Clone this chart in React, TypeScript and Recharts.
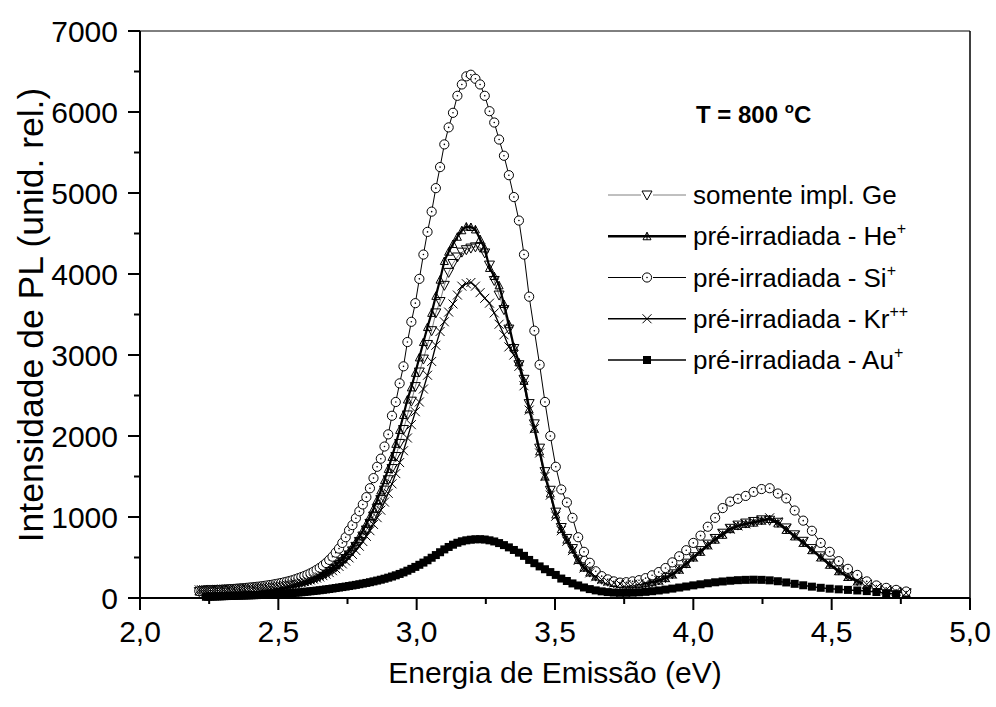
import React from 'react';
import { LineChart, Line, XAxis, YAxis, ReferenceLine } from 'recharts';

// Photon energy grid (eV), one entry per 2 nm step of the spectrometer (560 nm -> 260 nm)
const ENERGY_EV = [
  2.2143, 2.2222, 2.2302, 2.2383, 2.2464, 2.2545, 2.2628, 2.2711, 2.2794, 2.2878,
  2.2963, 2.3048, 2.3134, 2.3221, 2.3308, 2.3396, 2.3485, 2.3574, 2.3664, 2.3755,
  2.3846, 2.3938, 2.4031, 2.4125, 2.4219, 2.4314, 2.4409, 2.4506, 2.4603, 2.4701,
  2.4800, 2.4900, 2.5000, 2.5101, 2.5203, 2.5306, 2.5410, 2.5514, 2.5620, 2.5726,
  2.5833, 2.5941, 2.6050, 2.6160, 2.6271, 2.6383, 2.6496, 2.6609, 2.6724, 2.6840,
  2.6957, 2.7074, 2.7193, 2.7313, 2.7434, 2.7556, 2.7679, 2.7803, 2.7928, 2.8054,
  2.8182, 2.8311, 2.8440, 2.8571, 2.8704, 2.8837, 2.8972, 2.9108, 2.9245, 2.9384,
  2.9524, 2.9665, 2.9808, 2.9952, 3.0097, 3.0244, 3.0392, 3.0542, 3.0693, 3.0846,
  3.1000, 3.1156, 3.1313, 3.1472, 3.1633, 3.1795, 3.1959, 3.2124, 3.2292, 3.2461,
  3.2632, 3.2804, 3.2979, 3.3155, 3.3333, 3.3514, 3.3696, 3.3880, 3.4066, 3.4254,
  3.4444, 3.4637, 3.4831, 3.5028, 3.5227, 3.5429, 3.5632, 3.5838, 3.6047, 3.6257,
  3.6471, 3.6686, 3.6905, 3.7126, 3.7349, 3.7576, 3.7805, 3.8037, 3.8272, 3.8509,
  3.8750, 3.8994, 3.9241, 3.9490, 3.9744, 4.0000, 4.0260, 4.0523, 4.0789, 4.1060,
  4.1333, 4.1611, 4.1892, 4.2177, 4.2466, 4.2759, 4.3056, 4.3357, 4.3662, 4.3972,
  4.4286, 4.4604, 4.4928, 4.5255, 4.5588, 4.5926, 4.6269, 4.6617, 4.6970, 4.7328,
  4.7692,
];

// PL intensity (rel. units): Ge implant only
const GE_ONLY = [
  80, 82, 83, 84, 85, 86, 87, 88, 89, 90,
  91, 92, 93, 95, 96, 98, 99, 101, 103, 105,
  107, 109, 111, 113, 116, 119, 122, 125, 128, 132,
  136, 140, 144, 149, 154, 159, 165, 171, 178, 186,
  194, 203, 213, 224, 237, 251, 267, 285, 305, 328,
  353, 381, 413, 448, 488, 532, 582, 637, 698, 765,
  840, 921, 1010, 1108, 1215, 1332, 1460, 1598, 1747, 1908,
  2080, 2260, 2430, 2610, 2790, 2950, 3130, 3300, 3520, 3660,
  3860, 4020, 4130, 4210, 4270, 4300, 4320, 4335, 4330, 4260,
  4110, 3920, 3740, 3560, 3320, 3080, 2880, 2700, 2400, 2150,
  1850, 1560, 1330, 1060, 870, 735, 610, 480, 385, 320,
  270, 232, 207, 188, 175, 170, 172, 178, 186, 200,
  222, 252, 298, 358, 430, 510, 585, 665, 735, 800,
  860, 900, 925, 945, 965, 960, 935, 865, 780, 700,
  610, 520, 430, 345, 272, 215, 170, 130, 102, 82,
  64,
];

// PL intensity: pre-irradiated with He+
const HE_PRE = [
  78, 80, 82, 83, 84, 85, 86, 87, 88, 89,
  90, 92, 93, 95, 96, 98, 100, 102, 104, 106,
  108, 110, 112, 115, 118, 121, 124, 127, 131, 135,
  139, 143, 148, 153, 158, 164, 170, 177, 185, 193,
  202, 212, 223, 236, 250, 266, 284, 304, 326, 351,
  379, 410, 445, 484, 528, 577, 632, 693, 760, 834,
  915, 1005, 1103, 1210, 1327, 1455, 1593, 1742, 1903, 2075,
  2260, 2450, 2600, 2780, 2970, 3160, 3345, 3520, 3730, 3930,
  4160, 4275, 4370, 4460, 4540, 4585, 4580, 4550, 4430, 4315,
  4075, 3975, 3860, 3630, 3380, 3100, 2910, 2680, 2330, 2090,
  1810, 1500, 1290, 1030, 850, 720, 600, 470, 375, 315,
  265, 230, 205, 185, 172, 168, 170, 175, 182, 195,
  215, 245, 290, 350, 420, 500, 570, 650, 720, 780,
  850, 890, 915, 930, 955, 975, 920, 840, 760, 680,
  590, 500, 410, 330, 260, 205, 165, 125, 100, 80,
  62,
];

// PL intensity: pre-irradiated with Si+
const SI_PRE = [
  85, 88, 90, 92, 93, 95, 96, 98, 100, 100,
  102, 104, 106, 108, 110, 112, 115, 117, 120, 122,
  125, 128, 131, 134, 138, 141, 145, 150, 155, 160,
  165, 172, 178, 185, 193, 201, 210, 220, 232, 245,
  258, 272, 288, 305, 325, 348, 372, 400, 432, 470,
  510, 560, 610, 680, 750, 835, 900, 985, 1070, 1155,
  1245, 1355, 1480, 1620, 1720, 1870, 2020, 2250, 2420, 2650,
  2860, 3160, 3410, 3640, 3940, 4240, 4520, 4770, 5060, 5320,
  5600, 5810, 5990, 6200, 6340, 6440, 6460, 6410, 6340, 6200,
  6010, 5870, 5660, 5460, 5220, 4950, 4660, 4240, 3720, 3300,
  2880, 2420, 2000, 1620, 1340, 1180, 990, 750, 570, 435,
  330, 270, 230, 205, 190, 195, 205, 220, 245, 280,
  320, 370, 440, 515, 590, 680, 770, 880, 990, 1110,
  1190, 1225, 1260, 1310, 1345, 1355, 1290, 1230, 1080, 955,
  830, 680, 570, 455, 360, 285, 205, 155, 125, 100,
  80,
];

// PL intensity: pre-irradiated with Kr++
const KR_PRE = [
  100, 102, 104, 104, 105, 105, 106, 106, 107, 107,
  108, 108, 109, 110, 111, 112, 113, 114, 115, 116,
  117, 118, 120, 122, 124, 126, 128, 131, 134, 137,
  140, 144, 148, 152, 157, 162, 167, 173, 180, 187,
  195, 203, 212, 222, 233, 246, 260, 276, 294, 314,
  337, 362, 390, 421, 456, 495, 538, 586, 639, 697,
  761, 831, 908, 992, 1084, 1184, 1292, 1409, 1536, 1672,
  1818, 1975, 2140, 2300, 2420, 2580, 2750, 2920, 3120, 3290,
  3410, 3530, 3630, 3740, 3850, 3880, 3895, 3850, 3770, 3700,
  3640, 3520, 3380, 3250, 3100, 3000, 2860, 2620, 2320, 2090,
  1790, 1500, 1270, 1010, 830, 700, 585, 465, 370, 310,
  262, 228, 203, 185, 173, 168, 170, 176, 184, 198,
  218, 250, 295, 355, 425, 505, 580, 655, 730, 795,
  850, 890, 915, 940, 960, 990, 940, 855, 770, 690,
  600, 510, 420, 338, 266, 210, 168, 128, 100, 80,
  62,
];

// PL intensity: pre-irradiated with Au+
const AU_PRE = [
  null, null, null, 15, 16, 17, 18, 19, 20, 21,
  22, 23, 24, 25, 26, 27, 28, 29, 30, 31,
  32, 33, 34, 35, 36, 37, 38, 40, 42, 44,
  46, 48, 50, 52, 54, 56, 59, 62, 65, 68,
  71, 75, 79, 83, 87, 91, 96, 101, 106, 111,
  117, 123, 129, 135, 141, 148, 155, 162, 170, 178,
  186, 195, 205, 215, 226, 238, 251, 265, 280, 297,
  316, 337, 360, 384, 410, 437, 466, 497, 530, 565,
  600, 630, 658, 682, 700, 712, 720, 725, 726, 722,
  712, 698, 678, 653, 625, 593, 560, 520, 470, 430,
  390, 355, 320, 285, 240, 210, 180, 155, 130, 110,
  94, 82, 73, 67, 64, 64, 66, 70, 76, 84,
  93, 104, 116, 129, 142, 156, 169, 182, 194, 204,
  213, 220, 224, 226, 224, 218, 207, 192, 175, 157,
  140, 126, 115, 107, 100, 93, 85, 74, 60, 48,
  null,
];

const X_TICKS = [2, 2.25, 2.5, 2.75, 3, 3.25, 3.5, 3.75, 4, 4.25, 4.5, 4.75, 5];
const Y_TICKS = [0, 500, 1000, 1500, 2000, 2500, 3000, 3500, 4000, 4500, 5000, 5500, 6000, 6500, 7000];

const rows = ENERGY_EV.map((e, i) => ({
  e,
  ge: GE_ONLY[i],
  he: HE_PRE[i],
  si: SI_PRE[i],
  kr: KR_PRE[i],
  au: AU_PRE[i],
}));

const FONT = '"Liberation Sans", Arial, Helvetica, sans-serif';
const TICK_SIZE = 12;
const MINOR_SIZE = 6;
const Y_TICK_MARGIN = 10;
const X_TICK_MARGIN = 11;
const TICK_FONT = 30;

type MarkerKind = 'down' | 'up' | 'circle' | 'cross' | 'square';

function marker(kind: MarkerKind, cx: number, cy: number, key?: string) {
  switch (kind) {
    case 'down':
      return (
        <polygon
          key={key}
          points={`${cx - 5},${cy - 4} ${cx + 5},${cy - 4} ${cx},${cy + 5}`}
          fill="none"
          stroke="#000"
          strokeWidth={1}
        />
      );
    case 'up':
      return (
        <g key={key}>
          <polygon
            points={`${cx - 4},${cy + 3.5} ${cx + 4},${cy + 3.5} ${cx},${cy - 4}`}
            fill="none"
            stroke="#000"
            strokeWidth={1}
          />
          <line x1={cx} y1={cy - 4} x2={cx} y2={cy + 3.5} stroke="#000" strokeWidth={1} />
        </g>
      );
    case 'circle':
      return (
        <g key={key}>
          <circle cx={cx} cy={cy} r={4.6} fill="#fff" stroke="#000" strokeWidth={1} />
          <circle cx={cx} cy={cy} r={0.8} fill="#000" />
        </g>
      );
    case 'cross':
      return (
        <g key={key} stroke="#000" strokeWidth={1}>
          <line x1={cx - 4.5} y1={cy - 4.5} x2={cx + 4.5} y2={cy + 4.5} />
          <line x1={cx - 4.5} y1={cy + 4.5} x2={cx + 4.5} y2={cy - 4.5} />
        </g>
      );
    default:
      return <rect key={key} x={cx - 4} y={cy - 4} width={8} height={8} fill="#000" />;
  }
}

function dotFor(kind: MarkerKind, id: string) {
  return (p: any) => {
    const k = `${id}-${p.index}`;
    if (p.cx == null || p.cy == null || Number.isNaN(p.cx) || Number.isNaN(p.cy) || p.value == null) {
      return <g key={k} />;
    }
    return marker(kind, p.cx, p.cy, k);
  };
}

const YTick = (p: any) => {
  const v = p.payload.value as number;
  const major = v % 1000 === 0;
  const edge = p.x + Y_TICK_MARGIN + TICK_SIZE;
  return (
    <g>
      <line x1={edge - (major ? TICK_SIZE : MINOR_SIZE)} x2={edge} y1={p.y} y2={p.y} stroke="#000" strokeWidth={2} />
      {major && (
        <text x={p.x} y={p.y} dy="0.36em" textAnchor="end" fontFamily={FONT} fontSize={TICK_FONT} fill="#000">
          {v}
        </text>
      )}
    </g>
  );
};

const XTick = (p: any) => {
  const v = p.payload.value as number;
  const major = Math.abs(v * 2 - Math.round(v * 2)) < 1e-6;
  const axisY = p.y - X_TICK_MARGIN - TICK_SIZE;
  return (
    <g>
      <line x1={p.x} x2={p.x} y1={axisY} y2={axisY + (major ? TICK_SIZE : MINOR_SIZE)} stroke="#000" strokeWidth={2} />
      {major && (
        <text x={p.x} y={p.y} dy="0.71em" textAnchor="middle" fontFamily={FONT} fontSize={TICK_FONT} fill="#000">
          {v.toFixed(1).replace('.', ',')}
        </text>
      )}
    </g>
  );
};

const LEGEND: { label: string; sup: string; stroke: string; width: number; kind: MarkerKind }[] = [
  { label: 'somente impl. Ge', sup: '', stroke: '#808080', width: 1, kind: 'down' },
  { label: 'pré-irradiada - He', sup: '+', stroke: '#000', width: 2.4, kind: 'up' },
  { label: 'pré-irradiada - Si', sup: '+', stroke: '#000', width: 1, kind: 'circle' },
  { label: 'pré-irradiada - Kr', sup: '++', stroke: '#000', width: 1.5, kind: 'cross' },
  { label: 'pré-irradiada - Au', sup: '+', stroke: '#000', width: 1.5, kind: 'square' },
];

export default function App() {
  return (
    <div style={{ position: 'absolute', left: 0, top: 0, width: 996, height: 707, background: '#fff' }}>
      <LineChart width={996} height={707} data={rows} margin={{ top: 31, right: 26, bottom: 0, left: 0 }}>
        <XAxis
          dataKey="e"
          type="number"
          domain={[2, 5]}
          ticks={X_TICKS}
          interval={0}
          height={109}
          tickSize={TICK_SIZE}
          tickMargin={X_TICK_MARGIN}
          tickLine={false}
          tick={XTick}
          axisLine={{ stroke: '#000', strokeWidth: 2 }}
        />
        <YAxis
          type="number"
          domain={[0, 7000]}
          ticks={Y_TICKS}
          interval={0}
          width={140}
          tickSize={TICK_SIZE}
          tickMargin={Y_TICK_MARGIN}
          tickLine={false}
          tick={YTick}
          axisLine={{ stroke: '#000', strokeWidth: 2 }}
        />
        <ReferenceLine y={7000} stroke="#000" strokeWidth={1} />
        <ReferenceLine x={5} stroke="#000" strokeWidth={1.5} />
        <Line dataKey="ge" type="linear" stroke="#808080" strokeWidth={1} dot={dotFor('down', 'ge')} activeDot={false} isAnimationActive={false} />
        <Line dataKey="he" type="linear" stroke="#000" strokeWidth={2.2} dot={dotFor('up', 'he')} activeDot={false} isAnimationActive={false} />
        <Line dataKey="si" type="linear" stroke="#000" strokeWidth={1} dot={dotFor('circle', 'si')} activeDot={false} isAnimationActive={false} />
        <Line dataKey="kr" type="linear" stroke="#000" strokeWidth={1.3} dot={dotFor('cross', 'kr')} activeDot={false} isAnimationActive={false} />
        <Line dataKey="au" type="linear" stroke="#000" strokeWidth={1.5} dot={dotFor('square', 'au')} activeDot={false} isAnimationActive={false} />
      </LineChart>
      <svg
        width={996}
        height={707}
        style={{ position: 'absolute', left: 0, top: 0, pointerEvents: 'none' }}
        fontFamily={FONT}
      >
        <text x={696} y={123} fontSize={24} fontWeight="bold" fill="#000">
          T = 800 <tspan dy={-10} fontSize={15}>o</tspan>
          <tspan dy={10}>C</tspan>
        </text>
        {LEGEND.map((item, i) => {
          const cy = 195 + i * 41.25;
          return (
            <g key={item.label}>
              <line x1={608} x2={686} y1={cy} y2={cy} stroke={item.stroke} strokeWidth={item.width} />
              {item.kind === 'circle' || item.kind === 'down' ? (
                <rect x={641} y={cy - 5} width={12} height={10} fill="#fff" />
              ) : null}
              {marker(item.kind, 647, cy)}
              <text x={693} y={cy + 9} fontSize={26} fill="#000">
                {item.label}
                {item.sup && (
                  <tspan dy={-11} fontSize={16}>
                    {item.sup}
                  </tspan>
                )}
              </text>
            </g>
          );
        })}
        <text x={555} y={683} fontSize={30} textAnchor="middle" fill="#000">
          Energia de Emissão (eV)
        </text>
        <text x={43} y={315} fontSize={35.5} textAnchor="middle" fill="#000" transform="rotate(-90 43 315)">
          Intensidade de PL (unid. rel.)
        </text>
      </svg>
    </div>
  );
}
